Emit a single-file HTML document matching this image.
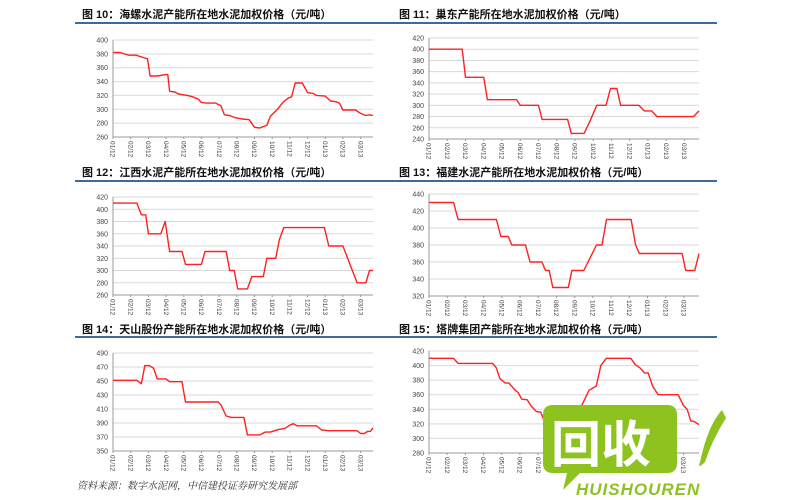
<!DOCTYPE html>
<html><head><meta charset="utf-8">
<style>
body{margin:0;background:#fff;width:800px;height:500px;overflow:hidden;font-family:"Liberation Sans","Noto Sans CJK SC",sans-serif;}
svg{display:block}
</style></head>
<body>
<svg id="root" width="800" height="500" viewBox="0 0 800 500" xmlns="http://www.w3.org/2000/svg">
<g id="charts"></g>
<text x="77" y="489" font-size="10" fill="#333" font-style="italic" font-family="'Liberation Serif','Noto Serif CJK SC',serif">资料来源：数字水泥网，中信建投证券研究发展部</text>
<g>
  <path d="M553 405 H667 Q677 405 677 415 V463 Q677 473 667 473 H580 L563 490 L567 473 H553 Q543 473 543 463 V415 Q543 405 553 405 Z" fill="#8dc21f"/>
  <text x="551" y="462" font-size="50" font-weight="bold" fill="#fff" font-family="'Noto Sans CJK SC',sans-serif">回收</text>
  <text x="576" y="495" font-size="17" font-weight="bold" font-style="italic" fill="#8dc21f" letter-spacing="1">HUISHOUREN</text>
  <path d="M722 410 Q708 425 700 462 Q697 470 705 462 Q712 440 726 418 Z" fill="#8dc21f"/>
</g>
</svg>
<script>
const xLabels=["01/12","02/12","03/12","04/12","05/12","06/12","07/12","08/12","09/12","10/12","11/12","12/12","01/13","02/13","03/13"];
const titles=["图 10：海螺水泥产能所在地水泥加权价格（元/吨）","图 11：巢东产能所在地水泥加权价格（元/吨）","图 12：江西水泥产能所在地水泥加权价格（元/吨）","图 13：福建水泥产能所在地水泥加权价格（元/吨）","图 14：天山股份产能所在地水泥加权价格（元/吨）","图 15：塔牌集团产能所在地水泥加权价格（元/吨）"];
const yTicks10=[260,280,300,320,340,360,380,400];
const yTicks11=[240,260,280,300,320,340,360,380,400,420];
const yTicks12=[260,280,300,320,340,360,380,400,420];
const yTicks13=[320,340,360,380,400,420,440];
const yTicks14=[350,370,390,410,430,450,470,490];
const yTicks15=[280,300,320,340,360,380,400,420];
const months10=[0,0.4,0.9,1.3,1.8,1.95,2.1,2.5,3.0,3.1,3.2,3.5,3.7,4.2,4.5,4.8,5.0,5.3,5.8,6.1,6.3,6.6,6.9,7.3,7.7,8.0,8.3,8.7,8.9,9.3,9.6,9.9,10.1,10.3,10.7,11.0,11.3,11.5,12.0,12.3,12.6,12.8,13.0,13.7,14.0,14.3,14.5,14.7];
const values10=[382,382,378,378,374,373,348,348,350,350,326,325,322,320,318,315,310,309,309,305,292,291,288,286,285,274,273,277,290,300,310,316,318,338,338,324,323,320,319,312,311,309,299,299,294,291,292,291];
const months11=[0,1.82,2.0,3.0,3.2,4.8,5.0,6.0,6.2,7.6,7.8,8.5,8.8,9.2,9.7,9.95,10.3,10.5,11.5,11.8,12.2,12.5,14.5,14.8];
const values11=[400,400,350,350,310,310,300,300,275,275,250,250,270,300,300,330,330,300,300,290,290,280,280,290];
const months12=[0,1.35,1.6,1.85,2.0,2.7,2.95,3.2,3.9,4.1,5.0,5.2,6.4,6.6,6.85,7.05,7.6,7.85,8.5,8.7,9.2,9.4,9.65,11.95,12.2,13.0,13.8,14.3,14.5,14.7];
const values12=[410,410,391,391,360,360,380,331,331,310,310,331,331,300,300,270,270,290,290,320,320,350,370,370,340,340,280,280,300,300];
const months13=[0,1.35,1.6,3.7,3.95,4.35,4.55,5.3,5.55,6.2,6.4,6.6,6.8,7.65,7.85,8.5,9.2,9.5,9.75,11.1,11.35,11.55,13.9,14.1,14.6,14.83];
const values13=[430,430,410,410,390,390,380,380,360,360,350,350,330,330,350,350,380,380,410,410,380,370,370,350,350,370];
const months14=[0,1.35,1.6,1.8,2.05,2.3,2.5,3.0,3.2,3.9,4.1,5.95,6.1,6.4,6.7,7.4,7.6,8.3,8.6,8.9,9.4,9.7,10.0,10.2,10.4,11.5,11.8,12.2,13.8,14.0,14.2,14.4,14.55,14.7];
const values14=[451,451,446,472,472,468,453,453,449,449,420,420,416,400,398,398,373,373,377,377,381,382,387,389,386,386,380,379,379,375,375,378,378,383];
const months15=[0,1.35,1.6,3.5,3.7,3.9,4.2,4.4,4.7,4.9,5.1,5.4,5.6,5.9,6.15,6.4,6.7,7.3,7.8,8.4,8.8,9.2,9.45,9.75,11.1,11.35,11.6,11.85,12.05,12.3,12.6,13.7,14.0,14.2,14.4,14.6,14.85];
const values15=[410,410,403,403,397,382,376,376,367,363,354,353,345,337,336,320,320,310,325,345,366,372,400,410,410,401,397,390,390,372,360,360,345,340,324,323,319];

const cfgs=[
 {tx:82,ty:15,lx0:75,lx1:395,ly:23,x0:113,x1:373,mEnd:14.7,yT:197-160+0,ytop:40,ybot:137,ticks:yTicks10,m:months10,v:values10},
 {tx:399,ty:15,lx0:380,lx1:717,ly:23,x0:429,x1:699,mEnd:14.8,ytop:38,ybot:139,ticks:yTicks11,m:months11,v:values11},
 {tx:82,ty:176,lx0:75,lx1:395,ly:181,x0:113,x1:373,mEnd:14.7,ytop:197,ybot:295,ticks:yTicks12,m:months12,v:values12},
 {tx:399,ty:176,lx0:380,lx1:717,ly:181,x0:429,x1:699,mEnd:14.83,ytop:194,ybot:296,ticks:yTicks13,m:months13,v:values13},
 {tx:82,ty:333,lx0:75,lx1:395,ly:337,x0:113,x1:373,mEnd:14.7,ytop:353,ybot:451,ticks:yTicks14,m:months14,v:values14},
 {tx:399,ty:333,lx0:380,lx1:717,ly:337,x0:429,x1:699,mEnd:14.85,ytop:351,ybot:453,ticks:yTicks15,m:months15,v:values15}
];
cfgs[0].ty=18;cfgs[1].ty=18;
const NS="http://www.w3.org/2000/svg";
const root=document.getElementById('charts');
function mk(tag,attrs,parent){const e=document.createElementNS(NS,tag);for(const k in attrs)e.setAttribute(k,attrs[k]);parent.appendChild(e);return e;}
cfgs.forEach((c,i)=>{
  const g=mk('g',{},root);
  
  
  const t=mk('text',{x:c.tx,y:c.ty,'font-size':'11','font-weight':'bold',fill:'#111'},g);
  t.textContent=titles[i];
  
  
  const bl=mk('line',{x1:c.lx0,x2:c.lx1,y1:c.ly,y2:c.ly,stroke:'#3d6a9a','stroke-width':'2'},g);
  
  
  const yMin=c.ticks[0],yMax=c.ticks[c.ticks.length-1];
  const ys=v=>c.ybot-(v-yMin)/(yMax-yMin)*(c.ybot-c.ytop);
  const xs=m=>c.x0+m/c.mEnd*(c.x1-c.x0);
  c.ticks.forEach(tv=>{
    const y=ys(tv);
    if(tv!==yMin){const gl=mk('line',{x1:c.x0,x2:c.x1,y1:y,y2:y,stroke:'#d9d9d9','stroke-width':'1'},g);
      
      }
    const lb=mk('text',{x:c.x0-5,y:y+2.5,'font-size':'7','text-anchor':'end',fill:'#444'},g);
    lb.textContent=tv;
    
    
  });
  const ax=mk('path',{d:`M${c.x0} ${c.ytop} V${c.ybot} H${c.x1}`,stroke:'#999',fill:'none','stroke-width':'1'},g);
  
  
  xLabels.forEach((l,k)=>{
    const x=xs(k);
    mk('line',{x1:x,x2:x,y1:c.ybot,y2:c.ybot+2,stroke:'#999'},g);
    const xl=mk('text',{x:0,y:0,'font-size':'6.5',fill:'#444',transform:`translate(${x-2.3},${c.ybot+4}) rotate(90)`},g);
    xl.textContent=l;
    
    
  });
  const d=c.m.map((m,k)=>(k?'L':'M')+xs(m).toFixed(1)+' '+ys(c.v[k]).toFixed(1)).join(' ');
  const ln=mk('path',{d:d,stroke:'#ff2020',fill:'none','stroke-width':'1.4','stroke-linejoin':'round'},g);
  
  
});
</script>
</body></html>
